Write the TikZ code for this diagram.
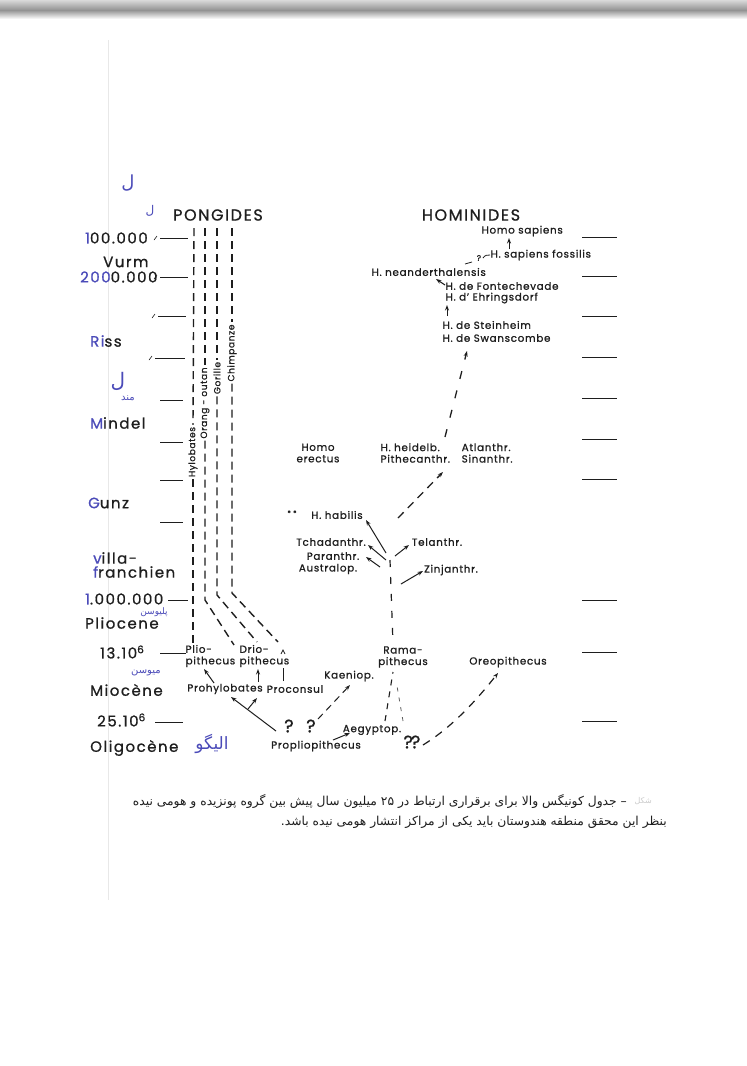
\documentclass[tikz,border=0pt]{standalone}
\usepackage{fontspec}
\usetikzlibrary{arrows.meta}
\newfontfamily\lab[LetterSpace=7,FakeBold=1]{Poppins}
\newfontfamily\labE[LetterSpace=10,FakeBold=0.8]{Poppins}
\newfontfamily\fa[Script=Arabic]{DejaVu Sans}
\TeXXeTstate=1
\definecolor{ink}{RGB}{30,30,30}
\definecolor{hand}{RGB}{75,75,185}
\tikzset{
  lbl/.style={font=\lab\fontsize{10.3}{11.5}\selectfont, text=ink, inner sep=0.5pt},
  rot/.style={font=\lab\fontsize{9}{9}\selectfont, text=ink, inner sep=2pt, rotate=90},
  head/.style={font=\labE\fontsize{16}{17}\selectfont, text=ink, inner sep=0pt},
  era/.style={font=\labE\fontsize{15}{16}\selectfont, text=ink, inner sep=0pt, anchor=west},
  hw/.style={font=\fa\fontsize{12}{13}\selectfont, text=hand, inner sep=0pt},
  captxt/.style={font=\fa\fontsize{12.3}{13}\selectfont, text=ink, inner sep=0pt},
  qm/.style={font=\lab\fontsize{18}{19}\selectfont, text=ink, inner sep=0pt},
  tick/.style={draw=ink, line width=1pt},
  dl/.style={draw=ink, line width=1.4pt, dash pattern=on 8pt off 5pt},
  arr/.style={draw=ink, line width=1pt, -{Stealth[length=5.5pt,width=4pt]}},
}
\begin{document}
\begin{tikzpicture}[x=1pt,y=-1pt]
\useasboundingbox (0,0) rectangle (747,1066);
\fill[white] (0,0) rectangle (747,1066);
% scan shadow and page edge
\shade[top color=gray!30, bottom color=gray!85] (0,0) rectangle (747,10);
\shade[top color=gray!85, bottom color=white] (0,10) rectangle (747,19);
\draw[gray!18, line width=0.6pt] (108,40) -- (108,900);

% headers
\node[head] (pong) at (218,215) {PONGIDES};
\node[head] (homi) at (471,215) {HOMINIDES};
\node[hw, font=\fa\fontsize{18}{19}\selectfont] (hwA) at (128,183) {ل};
\node[hw] (hwB) at (150,211) {ل};

% time scale (left)
\node[era] (e100) at (85,238) {{\color{hand}1}00.000};
\node[era] (ewurm) at (103,262) {Vurm};
\node[era] (e200) at (80,277) {{\color{hand}200}0.000};
\node[era] (eriss) at (90,341) {{\color{hand}Ri}ss};
\node[era] (emind) at (90,423) {{\color{hand}M}indel};
\node[era] (egunz) at (88,503) {{\color{hand}G}unz};
\node[era] (evil) at (93,558) {{\color{hand}v}illa-};
\node[era] (efran) at (93,572) {{\color{hand}f}ranchien};
\node[era] (e1m) at (85,599) {{\color{hand}1}.000.000};
\node[era] (eplio) at (85,623) {Pliocene};
\node[era] (e13) at (100,652) {13.10\textsuperscript{6}};
\node[era] (emio) at (90,690) {Miocène};
\node[era] (e25) at (97,720) {25.10\textsuperscript{6}};
\node[era] (eoli) at (90,748) {Oligocène};

% handwritten persian notes
\node[hw, font=\fa\fontsize{20}{21}\selectfont] (hwM1) at (118,381) {ل};
\node[hw, font=\fa\fontsize{10}{11}\selectfont] (hwM2) at (128,398) {\beginR مند\endR};
\node[hw, font=\fa\fontsize{9}{10}\selectfont] (hwP) at (154,612.5) {\beginR پلیوسن\endR};
\node[hw, font=\fa\fontsize{10}{11}\selectfont] (hwMi) at (146,673) {\beginR میوسن\endR};
\node[hw, font=\fa\fontsize{17}{18}\selectfont] (hwO) at (212,744) {\beginR الیگو\endR};

% ticks
\foreach \y/\a/\b in {238/160/188, 277/160/188, 316/158/186, 358/155/185, 400/160/183, 442/160/183, 480/160/183, 522/160/183, 600/168/188, 653/160/186, 722/155/183}
  \draw[tick] (\a,\y) -- (\b,\y);
\foreach \y/\a in {238/160, 277/160, 316/158, 358/155}
  \draw[draw=ink, line width=0.6pt] ({\a-6},{\y+2}) -- ({\a-3},{\y-2});
\foreach \y in {237,276,316,357,398,439,479,600,652,721}
  \draw[tick] (582,\y) -- (617,\y);

% pongid lines
\node[rot] (hylo) at (193,452) {Hylobates};
\node[rot] (orang) at (205,403) {Orang - outan};
\node[rot] (gori) at (217,378) {Gorille};
\node[rot] (chim) at (232,353) {Chimpanze};
\draw[dl] (194,228) -- (hylo.east);
\draw[dl] (hylo.west) -- (193,645);
\draw[dl] (205,228) -- (orang.east);
\draw[dl] (orang.west) -- (205,600) -- (234,645);
\draw[dl] (217,228) -- (gori.east);
\draw[dl] (gori.west) -- (217,595) -- (257,642);
\draw[dl] (232,228) -- (chim.east);
\draw[dl] (chim.west) -- (232,593) -- (278,642);

% lower nodes
\node[lbl, align=left, anchor=west] (plio) at (185,656) {Plio-\\pithecus};
\node[lbl, align=left, anchor=west] (drio) at (239,656) {Drio-\\pithecus};
\node[lbl] (prohy) at (225,689) {Prohylobates};
\node[lbl] (procon) at (295,689) {Proconsul};
\node[lbl] (koen) at (349,676) {Kaeniop.};
\node[lbl] (propl) at (316,746) {Propliopithecus};
\node[lbl] (aegy) at (372,730) {Aegyptop.};
\node[lbl, align=center] (rama) at (403,657) {Rama-\\pithecus};
\node[lbl] (oreo) at (508,662) {Oreopithecus};
\node[qm] (q1) at (289,726) {?};
\node[qm] (q2) at (311,726) {?};
\node[qm] (q3) at (412,742) {?\kern-2pt?};

\coordinate (c1a) at (214,683); \coordinate (c1b) at (204,669);
\draw[arr] (c1a) -- (c1b);
\coordinate (c2a) at (258,682); \coordinate (c2b) at (258,669);
\draw[arr] (c2a) -- (c2b);
\coordinate (c3a) at (283,681); \coordinate (c3b) at (283,668);
\draw[tick] (c3a) -- (c3b);
\draw[draw=ink, line width=0.8pt] (281,654) -- (283,650) -- (285,654);
\coordinate (c4a) at (276,731); \coordinate (c4b) at (231,697);
\draw[arr] (c4a) -- (c4b);
\coordinate (c5a) at (248,709); \coordinate (c5b) at (257,698);
\draw[arr] (c5a) -- (c5b);
\coordinate (c6a) at (318,719); \coordinate (c6b) at (350,685);
\draw[arr, dash pattern=on 7pt off 5pt] (c6a) -- (c6b);
\coordinate (c7a) at (333,740); \coordinate (c7b) at (350,733);
\draw[arr] (c7a) -- (c7b);
\coordinate (c8a) at (385,721); \coordinate (c8b) at (393,672);
\draw[draw=ink, line width=1.1pt, dash pattern=on 6pt off 6pt] (c8a) -- (c8b);
\coordinate (c9a) at (403,721); \coordinate (c9b) at (397,686);
\draw[draw=ink!70, line width=0.8pt, dash pattern=on 4pt off 6pt] (c9a) -- (c9b);
\coordinate (c10a) at (390,560); \coordinate (c10b) at (393,644);
\draw[draw=ink, line width=1.2pt, dash pattern=on 7pt off 10pt] (c10a) -- (c10b);
\coordinate (c11a) at (423,745); \coordinate (c11b) at (498,673);
\draw[arr, line width=1.2pt, dash pattern=on 8pt off 7pt] (c11a) .. controls (452,727) and (475,702) .. (c11b);

% hominid middle
\node[lbl, font=\lab\fontsize{7}{8}\selectfont] (stars) at (292,513) {* *};
\node[lbl] (habil) at (337,515) {H. habilis};
\node[lbl] (tchad) at (331,542) {Tchadanthr.};
\node[lbl] (para) at (333,556) {Paranthr.};
\node[lbl] (austr) at (328,569) {Australop.};
\node[lbl] (telan) at (437,542) {Telanthr.};
\node[lbl] (zinj) at (451,570) {Zinjanthr.};
\node[lbl, align=center] (herect) at (318,453) {Homo\\erectus};
\node[lbl, align=left, anchor=west] (heid) at (380,453) {H. heidelb.\\Pithecanthr.};
\node[lbl, align=left, anchor=west] (atlan) at (461,453) {Atlanthr.\\Sinanthr.};

\coordinate (s1) at (386,553); \coordinate (s2) at (386,560);
\coordinate (s3) at (380,567); \coordinate (s4) at (395,556);
\coordinate (s5) at (401,584);
\draw[arr] (s1) -- (366,520);
\draw[arr] (s2) -- (368,545);
\draw[arr] (s3) -- (366,557);
\draw[arr] (s4) -- (409,545);
\draw[arr] (s5) -- (423,571);
\coordinate (d1a) at (398,518); \coordinate (d1b) at (443,472);
\draw[arr, line width=1.3pt, dash pattern=on 8pt off 6pt] (d1a) -- (d1b);
\coordinate (d2a) at (445,437); \coordinate (d2b) at (467,351);
\draw[arr, line width=1.3pt, dash pattern=on 8pt off 12pt] (d2a) -- (d2b);

% hominid top
\node[lbl, anchor=west] (hs) at (481,231) {Homo sapiens};
\node[lbl, anchor=west] (hsf) at (490,255) {H. sapiens fossilis};
\node[lbl, anchor=west] (nea) at (371,272) {H. neanderthalensis};
\node[lbl, anchor=west] (fon) at (445,286) {H. de Fontechevade};
\node[lbl, anchor=west] (ehr) at (445,298) {H. d’ Ehringsdorf};
\node[lbl, anchor=west] (ste) at (442,325) {H. de Steinheim};
\node[lbl, anchor=west] (swa) at (442,338) {H. de Swanscombe};
\coordinate (t1a) at (509,249); \coordinate (t1b) at (509,238);
\draw[arr] (t1a) -- (t1b);
\coordinate (t2a) at (445,285); \coordinate (t2b) at (436,279);
\draw[arr] (t2a) -- (t2b);
\coordinate (t3a) at (447,316); \coordinate (t3b) at (447,305);
\draw[arr] (t3a) -- (t3b);
\draw[tick, line width=0.8pt] (465,264) -- (472,262);
\node[lbl, font=\lab\fontsize{8}{9}\selectfont] (qn) at (479,258) {?};
\draw[tick, line width=0.8pt] (483,258) .. controls (485,255) and (487,255) .. (hsf.west);

% caption
\node[captxt, text=gray!40, font=\fa\fontsize{8}{9}\selectfont, anchor=east] (capn) at (652,801) {\beginR شکل\endR};
\node[captxt, anchor=east] (cap1) at (627,801) {\beginR – جدول کونیگس والا برای برقراری ارتباط در \beginL ۲۵\endL{} میلیون سال پیش بین گروه پونزیده و هومی نیده\endR};
\node[captxt, anchor=east] (cap2) at (667,822) {\beginR بنظر این محقق منطقه هندوستان باید یکی از مراکز انتشار هومی نیده باشد.\endR};
\end{tikzpicture}
\end{document}
